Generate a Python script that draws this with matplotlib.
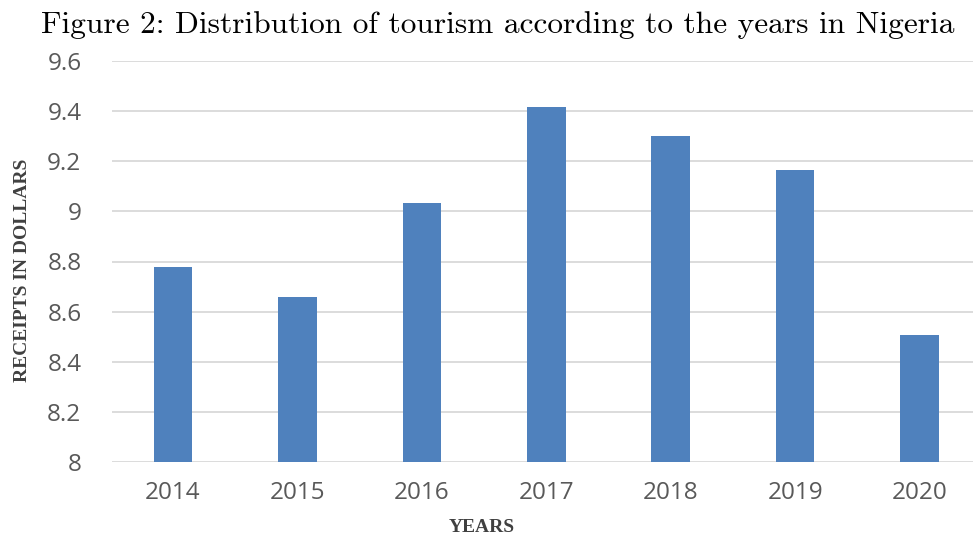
import matplotlib.pyplot as plt

# tourism receipts
years = ['2014', '2015', '2016', '2017', '2018', '2019', '2020']
receipts = [8.78, 8.66, 9.035, 9.415, 9.30, 9.165, 8.505]
yticks = [8, 8.2, 8.4, 8.6, 8.8, 9, 9.2, 9.4, 9.6]
ytick_labels = ['8', '8.2', '8.4', '8.6', '8.8', '9', '9.2', '9.4', '9.6']

fig = plt.figure(figsize=(9.73, 5.37), dpi=100)
ax = fig.add_axes([112 / 973, 1 - 462 / 537, 861 / 973, 401 / 537])

ax.bar(range(len(years)), receipts, width=0.31, color='#4F81BD', zorder=3)
ax.set_xlim(-0.49, 6.43)
ax.set_ylim(8, 9.6)
ax.set_yticks(yticks)
ax.set_yticklabels(ytick_labels)
ax.set_xticks(range(len(years)))
ax.set_xticklabels(years)

ax.grid(axis='y', color='#d9d9d9', linewidth=1.3, zorder=0)
for s in ax.spines.values():
    s.set_visible(False)
ax.tick_params(length=0, labelsize=17.5, colors='#595959', labelfontfamily='Open Sans')
ax.tick_params(axis='y', pad=22)
ax.tick_params(axis='x', pad=14)

ax.set_xlabel('YEARS', family='Liberation Serif', fontweight='bold', fontsize=14,
              color='#404040')
ax.set_ylabel('RECEIPTS IN DOLLARS', family='Liberation Serif', fontweight='bold',
              fontsize=14, color='#404040')
ax.xaxis.set_label_coords(0.43, -0.142)
ax.yaxis.set_label_coords(-0.0945, 0.479)

fig.text(498 / 973, 1 - 25 / 537, 'Figure 2: Distribution of tourism according to the years in Nigeria',
         family='cmr10', fontsize=22.6, ha='center', va='center')

fig.savefig('out.png', dpi=100)
